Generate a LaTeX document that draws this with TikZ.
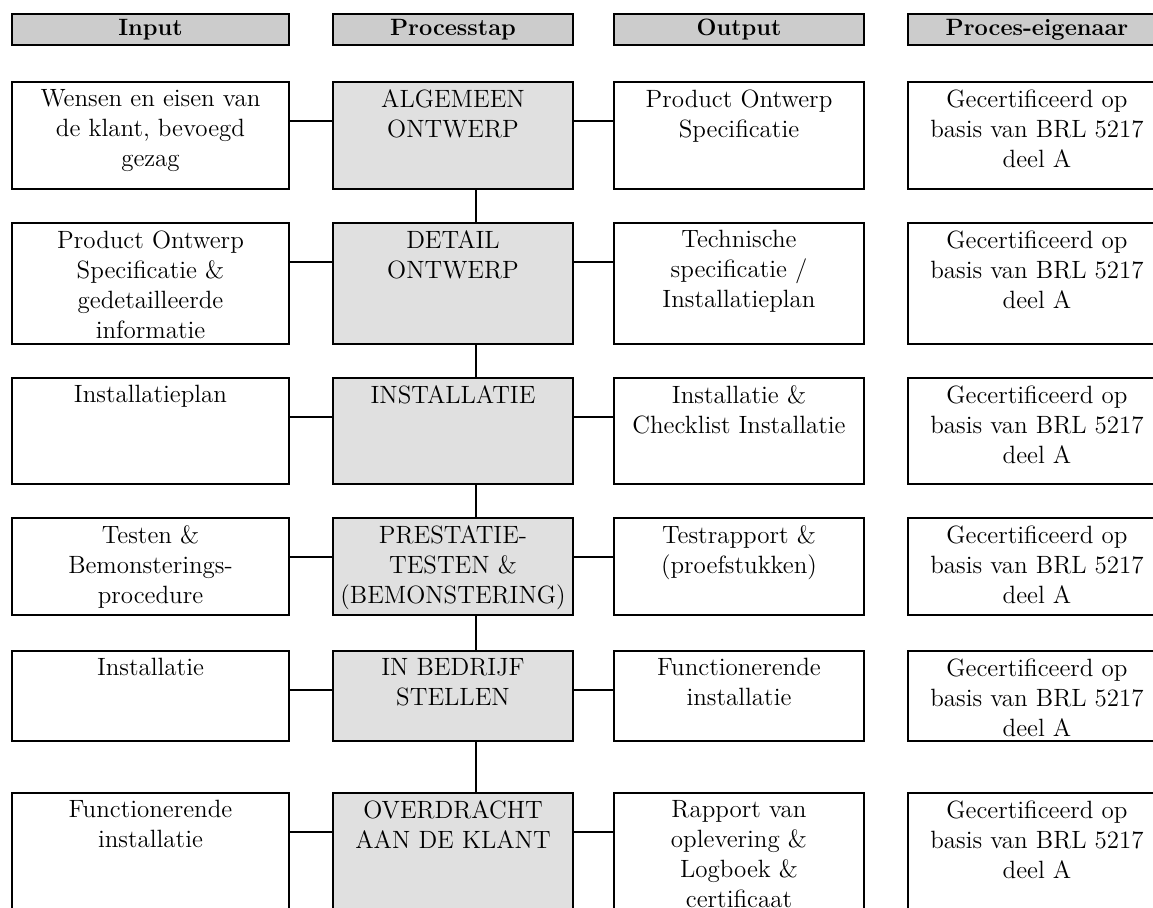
\documentclass[tikz,border=0pt]{standalone}
\usepackage{tikz}

\definecolor{headfill}{RGB}{204,204,204}
\definecolor{stepfill}{RGB}{224,224,224}

\tikzset{
  cell/.style={draw, line width=1pt, anchor=north west, inner sep=0pt},
  txt/.style={anchor=north, align=center, inner sep=4pt, font=\fontsize{12.5}{15}\selectfont},
  head/.style={cell, fill=headfill, minimum height=15.5pt, font=\bfseries\fontsize{11.8}{14}\selectfont},
  stepbox/.style={fill=stepfill},
  incol/.style={minimum width=138.5pt},
  stepcol/.style={minimum width=120pt},
  outcol/.style={minimum width=125pt},
  owncol/.style={minimum width=129pt},
}

\begin{document}
\begin{tikzpicture}[x=0.5pt,y=-0.5pt]
    \useasboundingbox (0,0) rectangle (1153,907);

    % column heads
    \node[head, incol]   (hin)  at (11,13)  {Input};
    \node[head, stepcol] (hst)  at (332,13) {Processtap};
    \node[head, outcol]  (hout) at (613,13) {Output};
    \node[head, owncol]  (hown) at (907,13) {Proces-eigenaar};

    % input
    \node[cell, incol, minimum height=53.5pt, label={[txt]north:Wensen en eisen van\\de klant, bevoegd\\gezag}] (in1) at (11,81) {};
    \node[cell, incol, minimum height=60.5pt, label={[txt]north:Product Ontwerp\\Specificatie \&\\gedetailleerde\\informatie}] (in2) at (11,222) {};
    \node[cell, incol, minimum height=53pt,   label={[txt]north:Installatieplan}] (in3) at (11,377) {};
    \node[cell, incol, minimum height=48.5pt, label={[txt]north:Testen \&\\Bemonsterings-\\procedure}] (in4) at (11,517) {};
    \node[cell, incol, minimum height=45pt,   label={[txt]north:Installatie}] (in5) at (11,650) {};
    \node[cell, incol, minimum height=75pt,   label={[txt]north:Functionerende\\installatie}] (in6) at (11,792) {};

    % processtap
    \node[cell, stepbox, stepcol, minimum height=53.5pt, label={[txt]north:ALGEMEEN\\ONTWERP}] (st1) at (332,81) {};
    \node[cell, stepbox, stepcol, minimum height=60.5pt, label={[txt]north:DETAIL\\ONTWERP}] (st2) at (332,222) {};
    \node[cell, stepbox, stepcol, minimum height=53pt,   label={[txt]north:INSTALLATIE}] (st3) at (332,377) {};
    \node[cell, stepbox, stepcol, minimum height=48.5pt, label={[txt]north:PRESTATIE-\\TESTEN \&\\(BEMONSTERING)}] (st4) at (332,517) {};
    \node[cell, stepbox, stepcol, minimum height=45pt,   label={[txt]north:IN BEDRIJF\\STELLEN}] (st5) at (332,650) {};
    \node[cell, stepbox, stepcol, minimum height=75pt,   label={[txt]north:OVERDRACHT\\AAN DE KLANT}] (st6) at (332,792) {};

    % output
    \node[cell, outcol, minimum height=53.5pt, label={[txt]north:Product Ontwerp\\Specificatie}] (out1) at (613,81) {};
    \node[cell, outcol, minimum height=60.5pt, label={[txt]north:Technische\\specificatie /\\Installatieplan}] (out2) at (613,222) {};
    \node[cell, outcol, minimum height=53pt,   label={[txt]north:Installatie \&\\Checklist Installatie}] (out3) at (613,377) {};
    \node[cell, outcol, minimum height=48.5pt, label={[txt]north:Testrapport \&\\(proefstukken)}] (out4) at (613,517) {};
    \node[cell, outcol, minimum height=45pt,   label={[txt]north:Functionerende\\installatie}] (out5) at (613,650) {};
    \node[cell, outcol, minimum height=75pt,   label={[txt]north:Rapport van\\oplevering \&\\Logboek \&\\certificaat}] (out6) at (613,792) {};

    % proces-eigenaar
    \foreach \r/\y/\h in {1/81/53.5, 2/222/60.5, 3/377/53, 4/517/48.5, 5/650/45, 6/792/75}
        \node[cell, owncol, minimum height=\h pt, label={[txt]north:Gecertificeerd op\\basis van BRL 5217\\deel A}] (own\r) at (907,\y) {};

    % connectors
    \coordinate (spine) at (476,0);
    \begin{scope}[line width=1pt]
        \foreach \r in {1,...,6} {
            \draw ([yshift=-20pt]in\r.north east) -- ([yshift=-20pt]st\r.north west);
            \draw ([yshift=-20pt]st\r.north east) -- ([yshift=-20pt]out\r.north west);
        }
        \foreach \a/\b in {1/2,2/3,3/4,4/5,5/6}
            \draw (st\a.south -| spine) -- (st\b.north -| spine);
    \end{scope}
\end{tikzpicture}
\end{document}
